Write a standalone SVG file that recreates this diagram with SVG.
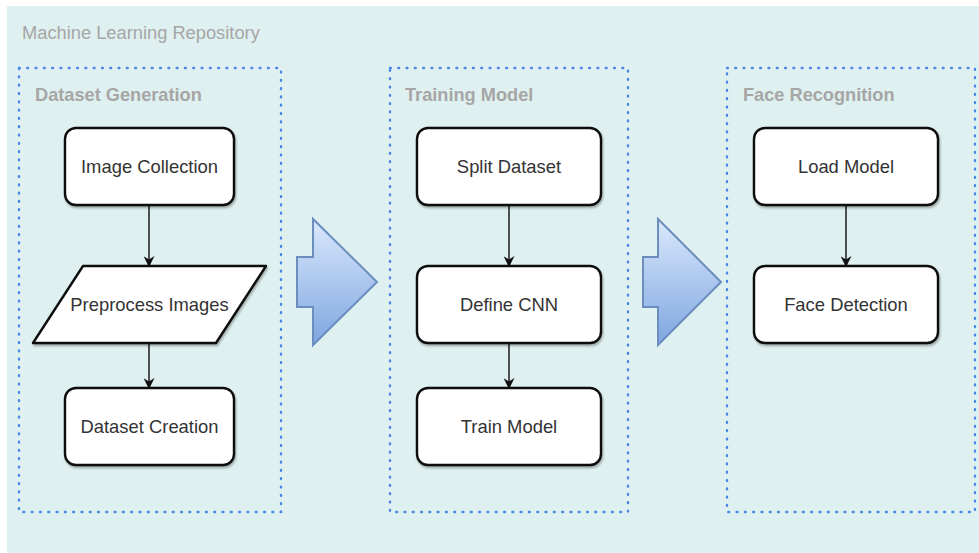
<svg xmlns="http://www.w3.org/2000/svg" width="979" height="553" viewBox="0 0 979 553">
  <style>
    .bg { fill: #dff0f0; }
    .lane { fill: none; stroke: #4a86e8; stroke-width: 2.4; stroke-dasharray: 0.8 7.5; stroke-linecap: round; }
    .title { font-family: "Liberation Sans", Arial, sans-serif; font-size: 18.3px; fill: #a6a6a6; }
    .lane-title { font-family: "Liberation Sans", Arial, sans-serif; font-size: 18.2px; font-weight: bold; fill: #a6a6a6; }
    .node { fill: #ffffff; stroke: #111111; stroke-width: 2.4; filter: url(#shadow); }
    .label { font-family: "Liberation Sans", Arial, sans-serif; font-size: 18.4px; fill: #333333; text-anchor: middle; dominant-baseline: central; }
    .edge { fill: none; stroke: #333333; stroke-width: 1.7; marker-end: url(#arrow); }
    .big-arrow { fill: url(#arrowFill); stroke: #6c8ebf; stroke-width: 2; stroke-linejoin: miter; }
  </style>
  <defs>
    <filter id="shadow" x="-10%" y="-10%" width="120%" height="130%">
      <feDropShadow dx="1" dy="2" stdDeviation="1" flood-color="#000000" flood-opacity="0.3"/>
    </filter>
    <linearGradient id="arrowFill" x1="0" y1="0" x2="0" y2="1">
      <stop offset="0" stop-color="#dae8fc"/>
      <stop offset="1" stop-color="#7ea6e0"/>
    </linearGradient>
    <marker id="arrow" viewBox="0 0 10 10" refX="9" refY="5" markerWidth="11" markerHeight="11" markerUnits="userSpaceOnUse" orient="auto">
      <path d="M0,0 L10,5 L0,10 L3,5 Z" fill="#111111"/>
    </marker>
  </defs>

  <!-- repository container -->
  <rect class="bg" x="7" y="6" width="980" height="560"/>
  <text class="title" x="22" y="39">Machine Learning Repository</text>

  <!-- swimlanes -->
  <g id="lane-dataset">
    <rect class="lane" x="19" y="68" width="262" height="444"/>
    <text class="lane-title" x="35" y="101">Dataset Generation</text>
  </g>
  <g id="lane-training">
    <rect class="lane" x="390" y="68" width="238" height="444"/>
    <text class="lane-title" x="405" y="101">Training Model</text>
  </g>
  <g id="lane-face">
    <rect class="lane" x="727" y="68" width="248" height="444"/>
    <text class="lane-title" x="743" y="101">Face Recognition</text>
  </g>

  <!-- connectors -->
  <g id="connectors">
    <line class="edge" x1="149" y1="205" x2="149" y2="266"/>
    <line class="edge" x1="149" y1="343" x2="149" y2="388"/>
    <line class="edge" x1="509" y1="205" x2="509" y2="266"/>
    <line class="edge" x1="509" y1="343" x2="509" y2="388"/>
    <line class="edge" x1="846" y1="205" x2="846" y2="266"/>
  </g>

  <!-- stage arrows -->
  <g id="stage-arrow-1">
    <path class="big-arrow" d="M297,257 L313,257 L313,219 L377,282 L313,345 L313,307 L297,307 Z"/>
  </g>
  <g id="stage-arrow-2">
    <path class="big-arrow" d="M643,257 L658,257 L658,219 L721,282 L658,345 L658,307 L643,307 Z"/>
  </g>

  <!-- Dataset Generation -->
  <g id="image-collection">
    <rect class="node" x="65" y="128" width="169" height="77" rx="11"/>
    <text class="label" x="149.5" y="166">Image Collection</text>
  </g>
  <g id="preprocess-images">
    <path class="node" d="M83,266 L266,266 L216,343 L33,343 Z" stroke-linejoin="round"/>
    <text class="label" x="149.5" y="304">Preprocess Images</text>
  </g>
  <g id="dataset-creation">
    <rect class="node" x="65" y="388" width="169" height="77" rx="11"/>
    <text class="label" x="149.5" y="426">Dataset Creation</text>
  </g>

  <!-- Training Model -->
  <g id="split-dataset">
    <rect class="node" x="417" y="128" width="184" height="77" rx="11"/>
    <text class="label" x="509" y="166">Split Dataset</text>
  </g>
  <g id="define-cnn">
    <rect class="node" x="417" y="266" width="184" height="77" rx="11"/>
    <text class="label" x="509" y="304">Define CNN</text>
  </g>
  <g id="train-model">
    <rect class="node" x="417" y="388" width="184" height="77" rx="11"/>
    <text class="label" x="509" y="426">Train Model</text>
  </g>

  <!-- Face Recognition -->
  <g id="load-model">
    <rect class="node" x="754" y="128" width="184" height="77" rx="11"/>
    <text class="label" x="846" y="166">Load Model</text>
  </g>
  <g id="face-detection">
    <rect class="node" x="754" y="266" width="184" height="77" rx="11"/>
    <text class="label" x="846" y="304">Face Detection</text>
  </g>
</svg>
